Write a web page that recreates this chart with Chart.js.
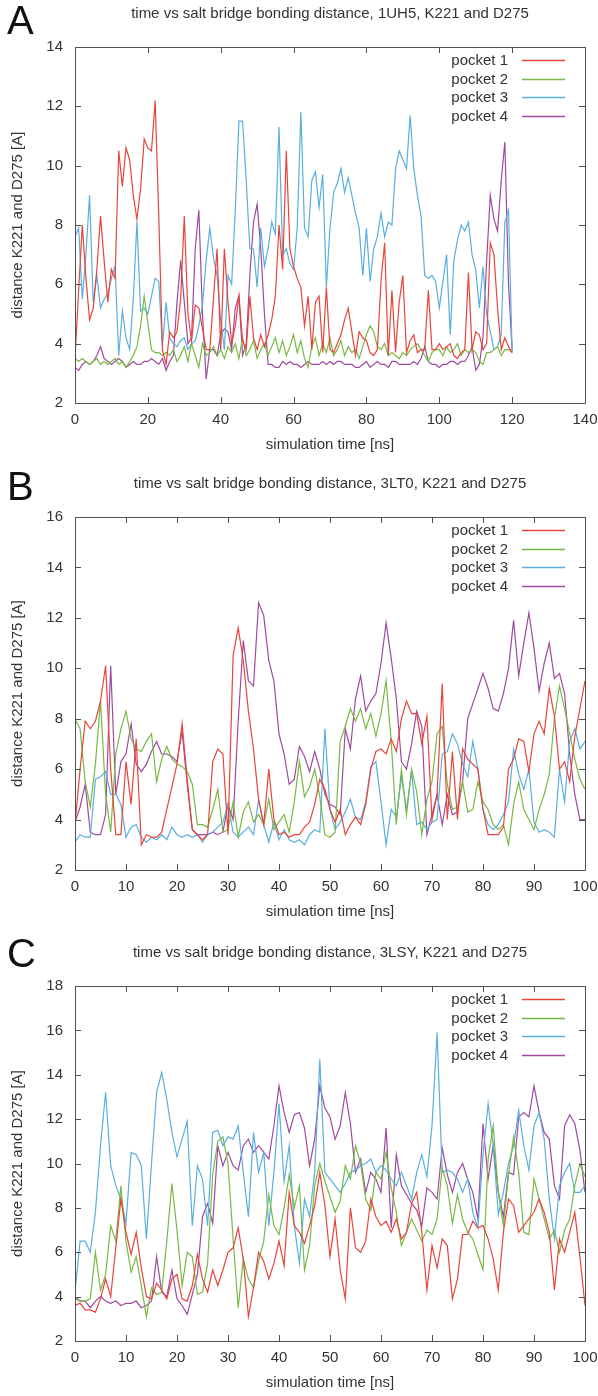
<!DOCTYPE html>
<html>
<head>
<meta charset="utf-8">
<script src="https://cdn.jsdelivr.net/npm/chart.js@4/dist/chart.umd.min.js"></script>
<style>
  html, body { margin: 0; padding: 0; background: #fff; }
  #page { position: relative; width: 598px; height: 1396px; overflow: hidden; }
  .panel { position: absolute; left: 0; }
  .letter { position: absolute; left: 7px; font: 40px 'Liberation Sans', Arial, sans-serif; line-height: 40px; color: #111; }
</style>
</head>
<body>
<div id="page">
  <canvas id="chartA" class="panel" style="top:0" width="598" height="466"></canvas>
  <canvas id="chartB" class="panel" style="top:470px" width="598" height="469"></canvas>
  <canvas id="chartC" class="panel" style="top:939px" width="598" height="457"></canvas>
  <div class="letter" style="top:0">A</div>
  <div class="letter" style="top:466px">B</div>
  <div class="letter" style="top:933px">C</div>
</div>
<script>
const seriesNames = ['pocket 1', 'pocket 2', 'pocket 3', 'pocket 4'];
const seriesColors = ['#e8443a', '#78b844', '#5aaee0', '#9e4a9e'];

// sample times in ns (one frame per ns)
const timeA = Array.from({ length: 121 }, (_, i) => i);
const timeBC = Array.from({ length: 101 }, (_, i) => i);

// A: 1UH5
const pocket1A = [3.5, 5.8, 8.0, 6.2, 4.8, 5.2, 6.5, 8.3, 6.8, 5.4,
  6.5, 6.2, 10.5, 9.3, 10.6, 10.2, 9.0, 8.2, 9.2, 10.9,
  10.6, 10.5, 12.2, 8.3, 3.8, 3.3, 4.4, 4.2, 4.4, 5.5,
  8.3, 5.0, 4.1, 5.3, 5.2, 4.5, 3.8, 3.8, 5.5, 7.2,
  3.8, 7.2, 5.4, 4.0, 4.6, 5.6, 4.1, 3.8, 5.6, 4.2,
  3.8, 4.3, 3.9, 4.3, 4.8, 5.6, 8.0, 6.5, 10.5, 7.2,
  6.6, 6.2, 5.9, 4.6, 5.6, 3.8, 5.4, 5.6, 3.7, 5.9,
  3.8, 3.7, 4.0, 4.3, 4.8, 5.2, 4.4, 3.6, 4.4, 4.2,
  4.1, 3.7, 3.6, 3.8, 6.1, 7.4, 3.6, 5.8, 3.7, 5.4,
  6.3, 3.7, 4.1, 4.3, 3.7, 3.8, 3.8, 5.8, 3.8, 3.8,
  4.0, 3.8, 3.9, 4.0, 3.6, 3.5, 3.7, 3.8, 6.4, 3.8,
  4.4, 4.3, 3.8, 4.0, 7.4, 7.0, 5.2, 3.8, 4.2, 3.9,
  3.7];
const pocket2A = [3.5, 3.4, 3.5, 3.4, 3.3, 3.4, 3.5, 3.3, 3.4, 3.3,
  3.4, 3.5, 3.3, 3.4, 3.2, 3.4, 3.6, 3.9, 4.6, 5.6,
  4.7, 3.8, 3.7, 3.7, 3.6, 3.7, 3.6, 3.8, 3.4, 3.6,
  3.9, 3.4, 4.0, 3.6, 3.2, 4.0, 3.6, 3.7, 3.9, 3.6,
  3.8, 3.5, 3.9, 3.7, 4.0, 3.5, 4.2, 3.6, 3.8, 4.1,
  3.5, 3.8, 4.0, 3.6, 3.9, 4.2, 3.7, 4.1, 3.6, 3.9,
  4.3, 3.7, 4.1, 3.5, 3.2, 3.9, 4.2, 3.6, 4.0, 3.7,
  4.2, 3.6, 3.8, 4.1, 3.6, 3.9, 3.7, 3.8, 3.5, 3.9,
  4.3, 4.6, 4.4, 3.9, 3.8, 4.0, 3.6, 3.7, 3.6, 3.5,
  3.7, 3.6, 3.8, 3.9, 4.0, 3.8, 3.6, 3.4, 3.7, 3.8,
  3.8, 3.6, 3.9, 3.7, 3.8, 4.0, 3.6, 3.8, 3.7, 3.8,
  3.7, 3.4, 3.3, 3.7, 3.7, 3.8, 3.9, 3.6, 3.8, 3.8,
  3.7];
const pocket3A = [7.6, 7.9, 5.5, 7.0, 9.0, 5.4, 6.3, 5.2, 5.5, 5.7,
  6.2, 6.6, 3.6, 5.1, 4.2, 3.8, 5.5, 8.1, 5.1, 5.2,
  5.0, 5.6, 6.2, 6.1, 3.9, 5.4, 4.2, 4.0, 3.9, 4.1,
  4.2, 3.8, 4.0, 4.1, 4.6, 5.3, 6.8, 7.9, 6.9, 6.3,
  4.8, 3.8, 6.3, 6.0, 8.5, 11.5, 11.5, 9.5, 7.2, 7.2,
  5.9, 7.9, 6.6, 7.2, 8.1, 7.7, 11.3, 7.0, 7.2, 6.7,
  6.5, 7.9, 11.8, 7.9, 7.6, 9.5, 9.8, 8.6, 9.7, 5.9,
  7.9, 9.1, 9.4, 9.9, 9.1, 9.6, 9.0, 8.4, 7.9, 6.3,
  7.9, 6.1, 7.2, 7.6, 8.4, 7.6, 8.1, 8.0, 9.9, 10.5,
  10.2, 9.9, 11.7, 9.9, 9.0, 8.3, 6.3, 6.2, 6.3, 6.1,
  5.2, 6.1, 7.0, 4.3, 6.8, 7.5, 8.0, 7.8, 8.1, 7.0,
  6.5, 5.2, 6.6, 5.0, 4.4, 3.8, 3.9, 4.3, 8.1, 8.5,
  3.7];
const pocket4A = [3.2, 3.1, 3.3, 3.4, 3.3, 3.4, 3.6, 3.9, 3.5, 3.4,
  3.3, 3.4, 3.5, 3.4, 3.2, 3.3, 3.4, 3.3, 3.3, 3.4,
  3.4, 3.5, 3.4, 3.3, 3.5, 3.1, 3.4, 3.6, 5.4, 6.8,
  5.4, 4.0, 4.2, 7.2, 8.5, 5.0, 2.8, 3.8, 3.8, 3.6,
  4.3, 4.5, 4.4, 3.8, 5.2, 5.6, 3.6, 4.0, 6.3, 8.1,
  8.7, 7.2, 5.0, 3.3, 3.3, 3.2, 3.2, 3.4, 3.3, 3.4,
  3.3, 3.3, 3.2, 3.3, 3.4, 3.3, 3.3, 3.3, 3.4, 3.3,
  3.4, 3.3, 3.4, 3.4, 3.3, 3.3, 3.3, 3.2, 3.2, 3.3,
  3.4, 3.2, 3.3, 3.4, 3.3, 3.3, 3.2, 3.4, 3.4, 3.3,
  3.3, 3.3, 3.3, 3.4, 3.3, 3.5, 3.9, 3.4, 3.3, 3.3,
  3.2, 3.3, 3.3, 3.4, 3.4, 3.3, 3.4, 3.4, 3.6, 3.9,
  3.1, 3.3, 4.2, 6.8, 9.0, 8.2, 7.8, 9.5, 10.8, 6.0,
  3.8];

// B: 3LT0
const pocket1B = [3.8, 6.0, 7.9, 7.6, 7.9, 8.7, 10.1, 6.0, 3.4, 3.4,
  6.3, 4.6, 7.2, 3.0, 3.4, 3.3, 3.3, 3.5, 4.4, 5.3,
  6.2, 7.8, 5.6, 3.6, 3.4, 3.2, 3.4, 6.3, 6.8, 6.6,
  3.4, 10.5, 11.6, 10.3, 8.3, 6.8, 4.8, 3.8, 6.0, 4.0,
  3.4, 3.5, 3.3, 3.4, 3.4, 3.7, 3.9, 4.6, 5.6, 5.2,
  4.4, 3.9, 4.4, 3.4, 3.8, 4.1, 3.8, 4.6, 6.0, 6.7,
  6.8, 6.6, 7.2, 6.7, 8.0, 8.7, 8.2, 8.2, 7.0, 8.1,
  4.0, 5.0, 9.4, 4.0, 6.7, 4.0, 6.8, 6.4, 6.2, 6.0,
  4.4, 3.4, 3.4, 3.4, 3.7, 6.0, 6.4, 7.2, 7.1, 5.9,
  7.4, 7.9, 7.4, 9.2, 8.1, 6.0, 6.3, 5.5, 7.3, 8.4,
  9.5];
const pocket2B = [8.0, 7.6, 5.5, 4.5, 6.2, 8.7, 5.0, 3.5, 6.6, 7.6,
  8.3, 7.2, 6.8, 6.7, 7.1, 7.4, 5.5, 6.4, 6.9, 6.4,
  6.2, 6.1, 5.9, 5.4, 3.8, 3.8, 3.7, 4.4, 5.2, 3.5,
  3.6, 4.7, 3.3, 4.3, 4.7, 3.9, 4.2, 3.8, 4.8, 3.6,
  3.9, 4.2, 3.5, 4.7, 6.3, 4.9, 5.3, 6.0, 4.9, 3.4,
  3.3, 3.5, 7.1, 7.7, 8.4, 7.9, 8.4, 7.6, 8.2, 7.3,
  8.2, 9.5, 7.1, 3.8, 6.0, 4.2, 6.0, 5.1, 3.4, 4.8,
  5.5, 7.4, 7.7, 5.4, 4.4, 4.5, 5.5, 4.3, 4.4, 5.5,
  4.7, 4.4, 3.8, 3.6, 3.8, 3.0, 4.6, 5.5, 4.4, 4.0,
  3.6, 4.4, 5.0, 5.8, 8.0, 9.3, 8.4, 7.4, 6.4, 5.6,
  5.2];
const pocket3B = [3.1, 3.4, 3.3, 3.3, 5.6, 5.7, 5.9, 5.0, 5.0, 4.6,
  3.3, 3.7, 3.8, 3.3, 3.1, 3.3, 3.2, 3.4, 3.2, 3.7,
  3.4, 3.3, 3.4, 3.3, 3.4, 3.1, 3.4, 3.5, 3.7, 3.9,
  4.6, 3.5, 3.3, 3.5, 3.7, 3.4, 4.8, 3.8, 3.1, 3.9,
  3.2, 3.6, 3.2, 3.1, 3.2, 3.0, 3.4, 3.6, 3.5, 7.6,
  4.4, 3.6, 3.9, 4.3, 4.8, 4.1, 4.0, 4.7, 6.1, 6.3,
  4.7, 3.0, 4.4, 4.1, 5.7, 4.4, 5.9, 3.8, 3.9, 3.6,
  3.9, 4.0, 6.6, 6.7, 7.4, 7.0, 6.2, 5.7, 7.1, 6.0,
  4.4, 3.8, 3.6, 3.8, 4.2, 4.7, 6.8, 5.8, 5.2, 6.0,
  3.9, 3.5, 3.6, 3.5, 3.3, 6.0, 4.7, 7.1, 7.6, 6.8,
  7.1];
const pocket4B = [3.9, 4.5, 5.4, 3.5, 3.4, 3.4, 4.2, 10.1, 5.0, 6.3,
  6.6, 7.8, 6.2, 5.9, 6.2, 6.7, 7.1, 6.6, 6.6, 6.5,
  6.3, 7.5, 5.4, 3.6, 3.4, 3.4, 3.4, 3.5, 3.4, 3.5,
  4.6, 4.0, 7.9, 11.1, 9.5, 9.3, 12.6, 12.1, 10.3, 9.5,
  7.4, 6.6, 5.4, 5.6, 6.9, 6.5, 5.9, 6.7, 6.0, 5.0,
  4.6, 4.5, 4.2, 7.6, 6.8, 8.8, 9.7, 8.3, 8.7, 9.0,
  10.2, 11.8, 10.4, 8.8, 6.3, 6.0, 7.0, 8.3, 7.7, 3.4,
  4.2, 5.0, 3.8, 5.0, 4.2, 4.3, 5.5, 8.0, 8.6, 9.2,
  9.8, 9.2, 8.4, 8.3, 9.0, 10.0, 11.9, 9.7, 11.0, 12.2,
  10.8, 9.1, 10.2, 11.0, 9.6, 9.8, 9.0, 6.6, 5.0, 4.0,
  4.0];

// C: 3LSY
const pocket1C = [3.6, 3.7, 3.4, 3.4, 3.3, 3.9, 4.8, 4.0, 6.2, 8.4,
  6.9, 5.9, 6.9, 5.3, 4.0, 3.9, 4.6, 4.3, 3.9, 4.8,
  5.0, 3.9, 3.8, 4.5, 5.9, 4.8, 4.2, 5.2, 4.5, 5.2,
  6.0, 6.2, 7.1, 5.7, 3.1, 4.4, 6.0, 5.6, 4.8, 5.5,
  6.5, 5.4, 8.7, 7.2, 6.9, 6.4, 7.2, 8.1, 9.6, 8.1,
  5.8, 7.5, 5.2, 3.9, 8.0, 6.2, 6.0, 6.5, 8.4, 7.6,
  7.2, 7.4, 6.9, 7.5, 6.6, 6.9, 8.2, 8.7, 6.9, 4.3,
  6.3, 5.3, 6.6, 6.3, 3.9, 4.8, 6.8, 6.8, 7.4, 7.1,
  7.2, 6.6, 5.7, 4.3, 6.9, 8.4, 8.1, 6.9, 7.2, 7.5,
  7.8, 8.4, 7.8, 6.9, 4.3, 6.6, 6.0, 6.9, 7.8, 5.8,
  3.6];
const pocket2C = [3.9, 3.8, 3.8, 3.9, 6.0, 4.3, 5.0, 7.2, 6.5, 9.0,
  6.5, 5.1, 5.8, 4.5, 3.1, 4.4, 4.1, 4.2, 6.5, 9.1,
  7.0, 4.5, 6.0, 5.8, 4.1, 4.2, 5.5, 9.5, 11.0, 11.2,
  10.0, 6.6, 3.5, 5.7, 4.8, 4.4, 5.6, 6.5, 8.6, 7.2,
  6.8, 8.0, 9.5, 8.0, 9.0, 5.2, 6.3, 9.0, 10.0, 9.2,
  8.5, 7.8, 8.3, 9.9, 9.3, 10.8, 10.0, 8.4, 7.9, 9.6,
  9.3, 10.5, 8.9, 7.8, 6.3, 6.9, 7.5, 7.0, 6.5, 7.0,
  6.8, 7.5, 9.8, 9.0, 7.3, 8.6, 7.5, 6.9, 6.6, 5.9,
  5.2, 10.2, 11.7, 8.7, 7.2, 9.5, 11.2, 9.6, 6.9, 6.8,
  9.3, 8.4, 7.5, 6.6, 7.0, 6.0, 7.0, 7.5, 9.0, 10.0,
  9.4];
const pocket3C = [4.2, 6.5, 6.5, 6.0, 7.8, 10.8, 13.2, 9.9, 9.0, 8.4,
  7.3, 10.5, 10.4, 9.9, 6.6, 10.0, 13.2, 14.1, 12.9, 11.4,
  10.3, 11.1, 11.9, 7.2, 9.9, 9.3, 7.2, 11.4, 11.5, 10.8,
  11.2, 11.1, 11.7, 9.6, 7.6, 11.4, 9.6, 10.5, 7.2, 9.6,
  12.7, 9.2, 10.8, 7.2, 5.5, 8.4, 7.6, 9.6, 14.7, 9.6,
  9.3, 9.0, 8.7, 9.1, 9.6, 9.7, 9.9, 10.0, 10.2, 9.6,
  9.9, 9.7, 9.3, 9.0, 9.6, 9.0, 8.4, 9.6, 10.4, 9.4,
  11.7, 15.9, 9.6, 9.7, 9.6, 9.3, 8.7, 9.3, 7.8, 7.1,
  10.4, 12.7, 10.8, 7.7, 8.7, 10.0, 10.8, 12.4, 10.8, 9.7,
  11.7, 12.3, 11.1, 8.4, 6.6, 9.0, 9.6, 10.0, 8.7, 8.7,
  9.0];
const pocket4C = [4.0, 3.8, 3.8, 3.5, 3.8, 4.0, 3.8, 3.7, 3.8, 3.6,
  3.7, 3.7, 3.8, 3.5, 3.6, 3.8, 5.8, 4.2, 4.0, 5.2,
  3.9, 3.6, 3.2, 4.1, 5.0, 7.6, 8.2, 7.3, 10.8, 9.9,
  10.5, 9.9, 9.7, 10.8, 11.1, 10.5, 10.8, 10.5, 10.2, 11.7,
  13.5, 12.3, 11.4, 12.2, 12.3, 11.6, 9.9, 11.1, 13.5, 12.5,
  12.1, 11.1, 11.7, 13.2, 11.8, 9.6, 10.2, 8.7, 9.6, 9.3,
  8.7, 11.6, 7.1, 10.4, 9.0, 8.6, 8.2, 7.9, 7.2, 8.9,
  8.7, 8.4, 10.7, 9.5, 8.7, 9.6, 10.0, 9.3, 8.7, 7.5,
  11.8, 9.3, 10.8, 8.7, 7.6, 9.6, 9.5, 12.1, 12.3, 12.1,
  13.5, 12.3, 11.4, 11.1, 9.0, 8.4, 11.7, 12.2, 11.8, 10.6,
  8.7];

const FONT = "'Liberation Sans', Arial, sans-serif";
const FONT_SIZE = 15;
const TEXT = '#333';
const PLOT_LEFT = 75;
const PLOT_RIGHT_PAD = 13;

// box with inward ticks on all four sides, like gnuplot
const framePlugin = {
  id: 'frame',
  afterDatasetsDraw(chart) {
    const { ctx, chartArea: a, scales: { x, y } } = chart;
    const len = 6;
    ctx.save();
    ctx.strokeStyle = '#505050';
    ctx.lineWidth = 1;
    ctx.beginPath();
    ctx.rect(a.left + 0.5, a.top + 0.5, a.right - a.left, a.bottom - a.top);
    x.ticks.forEach(t => {
      const px = Math.round(x.getPixelForValue(t.value)) + 0.5;
      ctx.moveTo(px, a.bottom); ctx.lineTo(px, a.bottom - len);
      ctx.moveTo(px, a.top); ctx.lineTo(px, a.top + len);
    });
    y.ticks.forEach(t => {
      const py = Math.round(y.getPixelForValue(t.value)) + 0.5;
      ctx.moveTo(a.left, py); ctx.lineTo(a.left + len, py);
      ctx.moveTo(a.right, py); ctx.lineTo(a.right - len, py);
    });
    ctx.stroke();
    ctx.restore();
  }
};

// key: label right-aligned, then a short line sample
const keyPlugin = {
  id: 'key',
  afterDraw(chart) {
    const { ctx, chartArea: a } = chart;
    ctx.save();
    ctx.font = FONT_SIZE + 'px ' + FONT;
    ctx.textAlign = 'right';
    ctx.textBaseline = 'middle';
    chart.data.datasets.forEach((ds, i) => {
      const yy = Math.round(a.top + 13 + i * 18.5) + 0.5;
      ctx.fillStyle = TEXT;
      ctx.fillText(ds.label, 508, yy);
      ctx.strokeStyle = ds.borderColor;
      ctx.lineWidth = 1.3;
      ctx.beginPath();
      ctx.moveTo(522, yy);
      ctx.lineTo(565, yy);
      ctx.stroke();
    });
    ctx.restore();
  }
};

function makePanel(id, cfg) {
  const ctx = document.getElementById(id).getContext('2d');
  const height = ctx.canvas.height;
  const half = FONT_SIZE * 1.2 / 2;
  return new Chart(ctx, {
    type: 'line',
    data: {
      labels: cfg.times,
      datasets: cfg.series.map((s, i) => ({
        label: seriesNames[i],
        data: s,
        borderColor: seriesColors[i],
        borderWidth: 1.2,
        pointRadius: 0,
        tension: 0,
        fill: false
      }))
    },
    options: {
      responsive: false,
      animation: false,
      layout: { padding: { left: 0, right: PLOT_RIGHT_PAD, top: 0, bottom: 0 } },
      plugins: {
        legend: { display: false },
        tooltip: { enabled: false },
        title: {
          display: true,
          text: cfg.title,
          fullSize: false,
          color: TEXT,
          font: { family: FONT, size: FONT_SIZE, weight: 'normal', lineHeight: 1.2 },
          padding: { top: 14 - half, bottom: 47 - 14 - half }
        }
      },
      scales: {
        x: {
          type: 'linear',
          min: 0,
          max: cfg.xMax,
          ticks: { stepSize: cfg.xStep, padding: 8, color: TEXT, maxRotation: 0, font: { family: FONT, size: FONT_SIZE } },
          grid: { display: false, drawTicks: false },
          border: { display: false },
          title: {
            display: true,
            text: 'simulation time [ns]',
            color: TEXT,
            font: { family: FONT, size: FONT_SIZE, lineHeight: 1.2 },
            padding: { top: 0, bottom: height - cfg.bottom - 42 - half }
          },
          afterFit: s => {
            s.height = height - cfg.bottom;
            s.paddingLeft = 0;
            s.paddingRight = 0;
          }
        },
        y: {
          min: 2,
          max: cfg.yMax,
          ticks: { stepSize: 2, padding: 12, color: TEXT, font: { family: FONT, size: FONT_SIZE } },
          grid: { display: false, drawTicks: false },
          border: { display: false },
          title: {
            display: true,
            text: 'distance K221 and D275 [A]',
            color: TEXT,
            font: { family: FONT, size: FONT_SIZE, lineHeight: 1.2 },
            padding: { top: 18 - half, bottom: 0 }
          },
          afterFit: s => {
            s.width = PLOT_LEFT;
            s.paddingTop = 0;
            s.paddingBottom = 0;
          }
        }
      }
    },
    plugins: [framePlugin, keyPlugin]
  });
}

makePanel('chartA', {
  title: 'time vs salt bridge bonding distance, 1UH5, K221 and D275',
  times: timeA,
  series: [pocket1A, pocket2A, pocket3A, pocket4A],
  xMax: 140, xStep: 20, yMax: 14, bottom: 403
});
makePanel('chartB', {
  title: 'time vs salt bridge bonding distance, 3LT0, K221 and D275',
  times: timeBC,
  series: [pocket1B, pocket2B, pocket3B, pocket4B],
  xMax: 100, xStep: 10, yMax: 16, bottom: 400
});
makePanel('chartC', {
  title: 'time vs salt bridge bonding distance, 3LSY, K221 and D275',
  times: timeBC,
  series: [pocket1C, pocket2C, pocket3C, pocket4C],
  xMax: 100, xStep: 10, yMax: 18, bottom: 402
});
</script>
</body>
</html>
